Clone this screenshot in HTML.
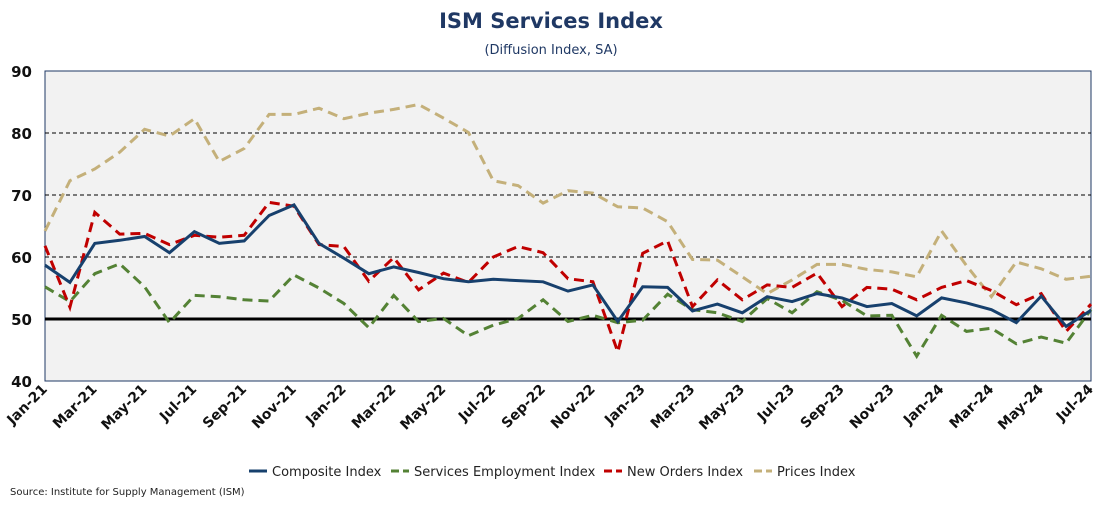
<!DOCTYPE html>
<html><head><meta charset="utf-8">
<style>
body{margin:0;background:#fff;width:1100px;height:500px;overflow:hidden;font-family:"Liberation Sans",sans-serif;}
</style></head>
<body>
<svg id="chart" width="1100" height="500" xmlns="http://www.w3.org/2000/svg">
<text x="551" y="28" text-anchor="middle" font-family="'DejaVu Sans',sans-serif" font-weight="bold" font-size="21" fill="#1f3864">ISM Services Index</text>
<text x="551" y="54" text-anchor="middle" font-family="'DejaVu Sans',sans-serif" font-size="13" fill="#1f3864">(Diffusion Index, SA)</text>
<rect x="45" y="71" width="1046" height="310" fill="#f2f2f2" stroke="#1f3864" stroke-width="1"/>
<g id="grid"></g><g id="series"></g><g id="axes"></g>
<g font-family="'DejaVu Sans',sans-serif" font-size="13" fill="#222">
<g><line x1="249" y1="471" x2="267" y2="471" stroke="#17406d" stroke-width="3"/><text x="272" y="476">Composite Index</text></g>
<g><line x1="391" y1="471" x2="409" y2="471" stroke="#548235" stroke-width="3" stroke-dasharray="8,4"/><text x="414" y="476">Services Employment Index</text></g>
<g><line x1="604" y1="471" x2="622" y2="471" stroke="#c00000" stroke-width="3" stroke-dasharray="8,4"/><text x="627" y="476">New Orders Index</text></g>
<g><line x1="754" y1="471" x2="772" y2="471" stroke="#c4b07a" stroke-width="3" stroke-dasharray="8,4"/><text x="777" y="476">Prices Index</text></g>
</g>
<text x="10" y="495" font-family="'DejaVu Sans',sans-serif" font-size="10" fill="#222">Source: Institute for Supply Management (ISM)</text>
</svg>
<script>
const months=["Jan","Feb","Mar","Apr","May","Jun","Jul","Aug","Sep","Oct","Nov","Dec"];
const categories=[];
for(let y=21;y<=24;y++)for(let m=0;m<12;m++){if(y===24&&m>6)break;categories.push(months[m]+"-"+y);}
const yTicks=[40,50,60,70,80,90];
const composite=[58.7,55.9,62.2,62.7,63.3,60.7,64.1,62.2,62.6,66.7,68.4,62.2,59.8,57.3,58.4,57.5,56.5,56.0,56.4,56.2,56.0,54.5,55.5,49.6,55.2,55.1,51.3,52.4,51.0,53.6,52.8,54.1,53.4,52.0,52.5,50.5,53.4,52.6,51.5,49.4,53.7,48.8,51.4];
const employment=[55.2,52.8,57.3,58.9,55.2,49.4,53.8,53.6,53.1,52.9,57.1,55.0,52.5,48.6,53.8,49.6,50.1,47.3,49.0,50.1,53.1,49.6,50.6,49.4,49.8,54.0,51.5,51.0,49.6,53.3,51.0,54.4,53.0,50.5,50.6,44.0,50.6,48.0,48.5,46.0,47.1,46.1,51.5];
const newOrders=[61.8,51.9,67.2,63.7,63.8,62.0,63.5,63.2,63.5,68.8,68.2,62.0,61.7,56.1,59.9,54.7,57.4,55.9,60.0,61.7,60.7,56.5,56.0,44.7,60.6,62.6,52.0,56.3,53.1,55.5,55.1,57.4,52.0,55.1,54.8,53.1,55.1,56.2,54.6,52.3,54.1,48.0,52.4];
const prices=[64.2,72.3,74.2,76.9,80.6,79.5,82.3,75.4,77.5,83.0,83.0,84.0,82.3,83.2,83.8,84.6,82.4,80.1,72.3,71.5,68.7,70.7,70.3,68.1,67.9,65.7,59.6,59.5,56.8,54.1,56.3,58.8,58.8,58.0,57.6,56.8,64.2,58.6,53.6,59.2,58.1,56.4,56.9];

const NS="http://www.w3.org/2000/svg";
const X0=45,X1=1091,Y0=381,Y1=71;
const xs=i=>X0+i*(X1-X0)/(categories.length-1);
const ys=v=>Y0-(v-40)*(Y0-Y1)/50;
function mk(tag,attrs,parent){const e=document.createElementNS(NS,tag);for(const k in attrs)e.setAttribute(k,attrs[k]);parent.appendChild(e);return e;}
const grid=document.getElementById('grid'),axes=document.getElementById('axes'),ser=document.getElementById('series');
yTicks.forEach(t=>{
  if(t>40&&t<90&&t!==50){const l=mk('line',{x1:X0,x2:X1,y1:ys(t),y2:ys(t),stroke:'#000','stroke-width':1,'stroke-dasharray':'4,3'},grid);
  
  }
  const tx=mk('text',{x:32,y:ys(t)+6,'text-anchor':'end','font-family':"'DejaVu Sans',sans-serif",'font-weight':'bold','font-size':15,fill:'#111'},axes);
  tx.textContent=t;
  
  
});
categories.forEach((c,i)=>{
  if(i%2!==0)return;
  const x=xs(i)+3,y=390;
  const tx=mk('text',{x:x,y:y,'text-anchor':'end','font-family':"'DejaVu Sans',sans-serif",'font-weight':'bold','font-size':14,fill:'#111',transform:`rotate(-45 ${x} ${y})`},axes);
  tx.textContent=c;
  
  
});
const series=[[prices,'#c4b07a','10,6','prices-line'],[employment,'#548235','10,6','employment-line'],[newOrders,'#c00000','10,6','new-orders-line'],[composite,'#17406d',null,'composite-line']];
series.forEach(([d,c,dash,name])=>{
  const a={points:d.map((v,i)=>xs(i).toFixed(1)+','+ys(v).toFixed(1)).join(' '),fill:'none',stroke:c,'stroke-width':3,'stroke-linejoin':'miter'};
  if(dash)a['stroke-dasharray']=dash;
  const p=mk('polyline',a,ser);
  
  
  if(name==='prices-line'){
    const l=mk('line',{x1:X0,x2:X1,y1:ys(50),y2:ys(50),stroke:'#000','stroke-width':3},ser);
    
    
  }
});
</script>
</body></html>
